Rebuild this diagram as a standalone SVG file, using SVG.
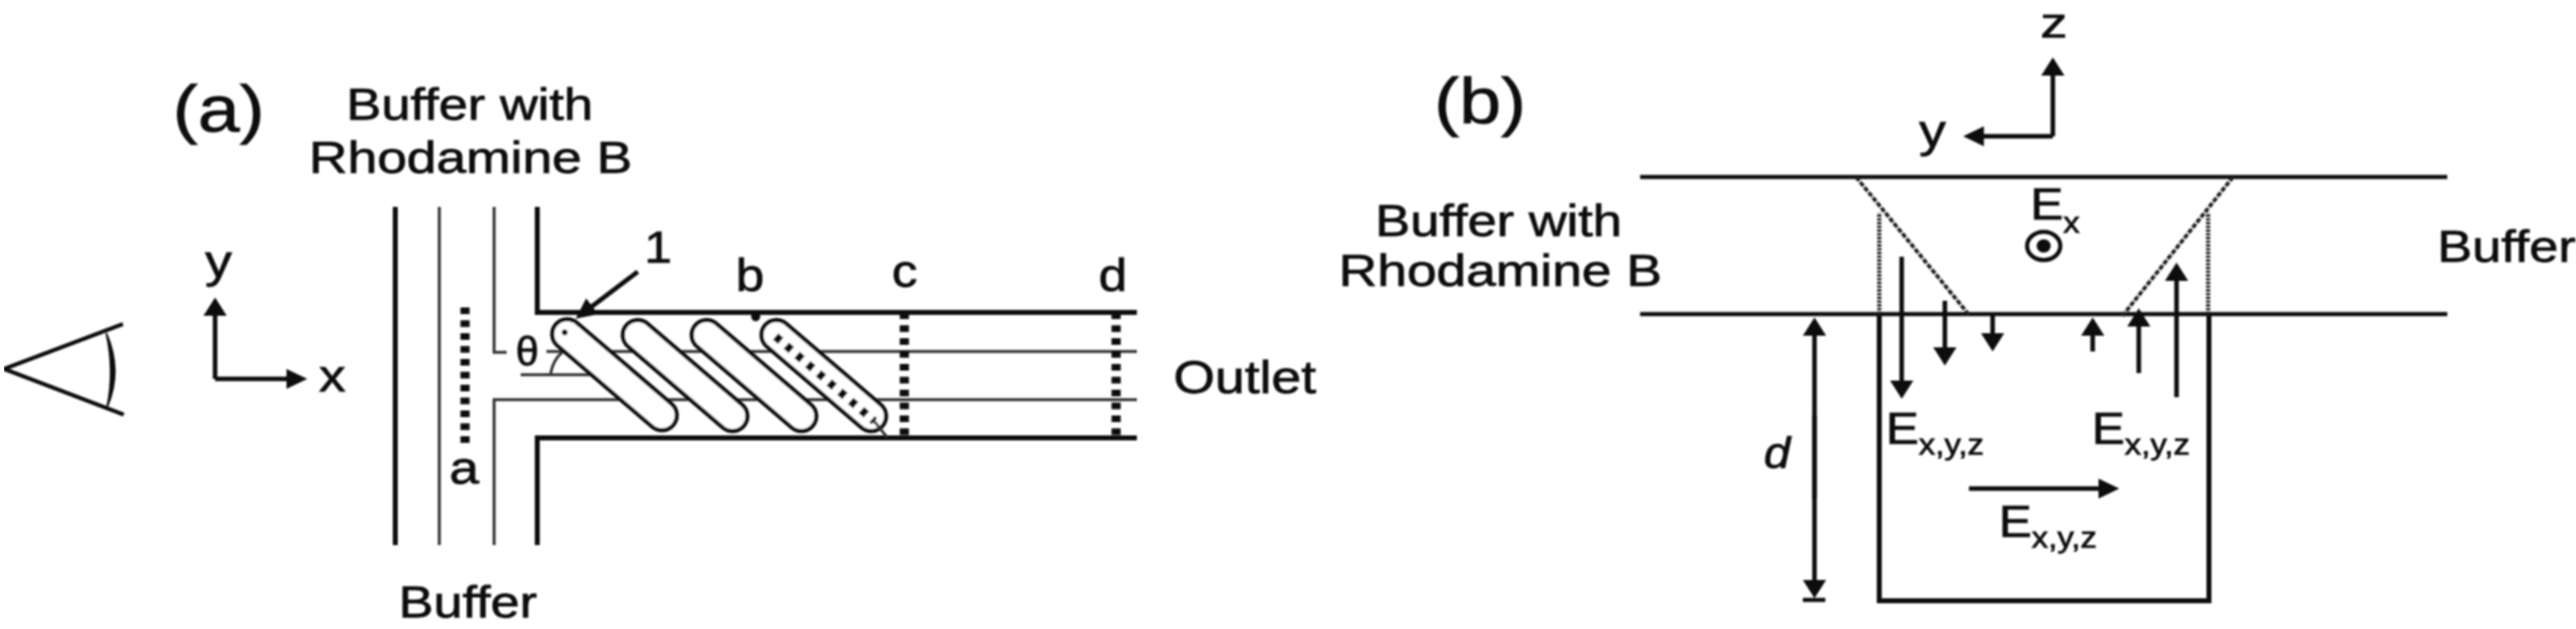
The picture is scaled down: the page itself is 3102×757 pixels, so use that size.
<svg xmlns="http://www.w3.org/2000/svg" width="3102" height="757" viewBox="0 0 3102 757">
<style>
text{font-family:"Liberation Sans",Arial,sans-serif;fill:#111;stroke:#111;stroke-width:.9}
.lab{font-size:54px}
.big{font-size:78px}
.let{font-size:56px}
.sub{font-size:36px}
.thick{stroke:#0a0a0a;stroke-width:6;fill:none}
.thin{stroke:#333;stroke-width:3.5;fill:none}
.mid{stroke:#111;stroke-width:5;fill:none}
.dots{stroke:#0a0a0a;stroke-width:11;stroke-dasharray:8 7.5;fill:none}
.fine{stroke:#222;stroke-width:4.5;stroke-dasharray:6 2;fill:none}
.side{stroke:#222;stroke-width:5;stroke-dasharray:3 1.5;fill:none}
.pill{fill:#fff;stroke:#111;stroke-width:5}
.arv{stroke:#111;stroke-width:5.500;fill:none;marker-end:url(#hv)}
.arh{stroke:#111;stroke-width:5.500;fill:none;marker-end:url(#hh)}
</style>
<defs>
<marker id="hv" markerUnits="userSpaceOnUse" viewBox="0 0 22 28" refX="16" refY="14" markerWidth="22" markerHeight="28" orient="auto"><path d="M0,0L22,14L0,28Z" fill="#111"/></marker>
<marker id="hh" markerUnits="userSpaceOnUse" viewBox="0 0 25 24" refX="19" refY="12" markerWidth="25" markerHeight="24" orient="auto"><path d="M0,0L25,12L0,24Z" fill="#111"/></marker>
<filter id="soft" x="0" y="0" width="100%" height="100%"><feGaussianBlur stdDeviation="0.9"/></filter>
</defs>
<rect width="3102" height="757" fill="#fff"/>
<g filter="url(#soft)">
<g id="panel-a-eye">
<path class="mid" d="M148,390L5,444L149,499"/>
<path d="M128,401Q148,446 129,490Q138,446 128,401Z" fill="#111" stroke="#111" stroke-width="2"/>
</g>
<g id="panel-a-channel">
<line class="thick" x1="476" y1="249" x2="476" y2="656"/>
<line class="thin" x1="529" y1="249" x2="529" y2="656"/>
<polyline class="thin" points="595,249 595,424 610,424"/>
<polyline class="thin" points="595,656 595,481 1369,481"/>
<polyline class="thick" points="647,249 647,376 1369,376"/>
<polyline class="thick" points="647,656 647,527 1369,527"/>
<line class="thin" x1="658" y1="423" x2="1369" y2="423"/>
<line class="thin" x1="627" y1="451" x2="716" y2="451"/>
<path class="thin" d="M663,450Q666,433 677,424"/>
</g>
<g id="panel-a-pills">
<rect class="pill" x="-93" y="-18" width="186" height="36" rx="18" transform="translate(740 451) rotate(40.6)"/>
<rect class="pill" x="-93" y="-18" width="186" height="36" rx="18" transform="translate(825 452) rotate(40.6)"/>
<rect class="pill" x="-93" y="-18" width="186" height="36" rx="18" transform="translate(908 452) rotate(40.6)"/>
<rect class="pill" x="-93" y="-18" width="186" height="36" rx="18" transform="translate(992 452) rotate(40.6)"/>
<circle cx="680" cy="400" r="3.500" fill="#111"/>
</g>
<g id="panel-a-cuts">
<line class="dots" x1="560" y1="370" x2="560" y2="535"/>
<line class="dots" x1="1089" y1="376" x2="1089" y2="527"/>
<line class="dots" x1="1344" y1="376" x2="1344" y2="527"/>
<line stroke="#0a0a0a" stroke-width="10" stroke-dasharray="8 9" x1="934" y1="405" x2="1053" y2="507"/>
<circle cx="910" cy="381" r="5.500" fill="#0a0a0a"/>
<line class="thin" x1="1052" y1="506" x2="1068" y2="526"/>
</g>
<g id="panel-b-channel">
<line class="mid" x1="1975" y1="213" x2="2947" y2="213"/>
<line class="mid" x1="1975" y1="378" x2="2947" y2="378"/>
<polyline class="thick" points="2263,378 2263,723 2660,723 2660,378"/>
<line class="side" x1="2263" y1="378" x2="2263" y2="256"/>
<line class="side" x1="2659" y1="378" x2="2659" y2="256"/>
<line class="fine" x1="2235" y1="213" x2="2372" y2="380"/>
<line class="fine" x1="2689" y1="213" x2="2556" y2="380"/>
<ellipse class="mid" cx="2461" cy="296" rx="20" ry="17"/>
<ellipse cx="2461" cy="296" rx="8.500" ry="8" fill="#111"/>
</g>
<g id="connectors">
<polyline class="arv" points="259,456 259,364"/>
<polyline class="arh" points="259,456 364,456"/>
<line class="arh" x1="768" y1="327" x2="698" y2="380"/>
<polyline class="arv" points="2472,164 2472,75"/>
<polyline class="arh" points="2472,164 2370,164"/>
<line class="arv" x1="2290" y1="309" x2="2290" y2="474"/>
<line class="arv" x1="2342" y1="362" x2="2342" y2="434"/>
<line class="arv" x1="2399.500" y1="378" x2="2399.500" y2="417"/>
<line class="arv" x1="2520" y1="423" x2="2520" y2="388"/>
<line class="arv" x1="2575.500" y1="449" x2="2575.500" y2="377"/>
<line class="arv" x1="2621" y1="478" x2="2621" y2="322"/>
<line class="arh" x1="2371" y1="588" x2="2546" y2="588"/>
<line class="arv" x1="2185" y1="600" x2="2185" y2="388"/>
<line class="arv" x1="2185" y1="500" x2="2185" y2="714"/>
<line class="mid" x1="2171" y1="722" x2="2198" y2="722"/>
</g>
<g id="labels-a">
<text class="big" transform="matrix(1.16 0 0 1 208 158)">(a)</text>
<text class="lab" transform="matrix(1.17 0 0 1 417 144)">Buffer with</text>
<text class="lab" transform="matrix(1.19 0 0 1 372 208)">Rhodamine B</text>
<text class="lab" transform="matrix(1.165 0 0 1 480 743)">Buffer</text>
<text class="let" transform="matrix(1.15 0 0 1 247 333)">y</text>
<text class="let" transform="matrix(1.15 0 0 1 384 471)">x</text>
<text class="let" transform="matrix(1.15 0 0 1 541 582)">a</text>
<text class="lab" transform="matrix(1.1 0 0 1 776 316)">1</text>
<text font-size="50" transform="translate(621 440)">θ</text>
<text class="let" transform="matrix(1.1 0 0 1 886 350)">b</text>
<text class="let" transform="matrix(1.1 0 0 1 1074 345)">c</text>
<text class="let" transform="matrix(1.1 0 0 1 1323 350)">d</text>
<text font-size="56" transform="matrix(1.15 0 0 1 1413 473)">Outlet</text>
</g>
<g id="labels-b">
<text class="big" transform="matrix(1.16 0 0 1 1727 149)">(b)</text>
<text class="let" transform="matrix(1.15 0 0 1 2311 176)">y</text>
<text font-size="50" transform="matrix(1.3 0 0 1 2457 45)">z</text>
<text class="lab" transform="matrix(1.17 0 0 1 1656 284)">Buffer with</text>
<text class="lab" transform="matrix(1.19 0 0 1 1612 344)">Rhodamine B</text>
<text class="lab" transform="matrix(1.165 0 0 1 2935 315)">Buffer</text>
<text class="lab" transform="matrix(1.1 0 0 1 2445 264)">E<tspan class="sub" dy="16">x</tspan></text>
<text class="lab" transform="matrix(1.1 0 0 1 2271 534)">E<tspan class="sub" dy="13">x,y,z</tspan></text>
<text class="lab" transform="matrix(1.1 0 0 1 2519 534)">E<tspan class="sub" dy="13">x,y,z</tspan></text>
<text class="lab" transform="matrix(1.1 0 0 1 2407 646)">E<tspan class="sub" dy="13">x,y,z</tspan></text>
<text font-size="52" font-style="italic" transform="matrix(1.1 0 0 1 2124 563)">d</text>
</g>
</g>
</svg>
